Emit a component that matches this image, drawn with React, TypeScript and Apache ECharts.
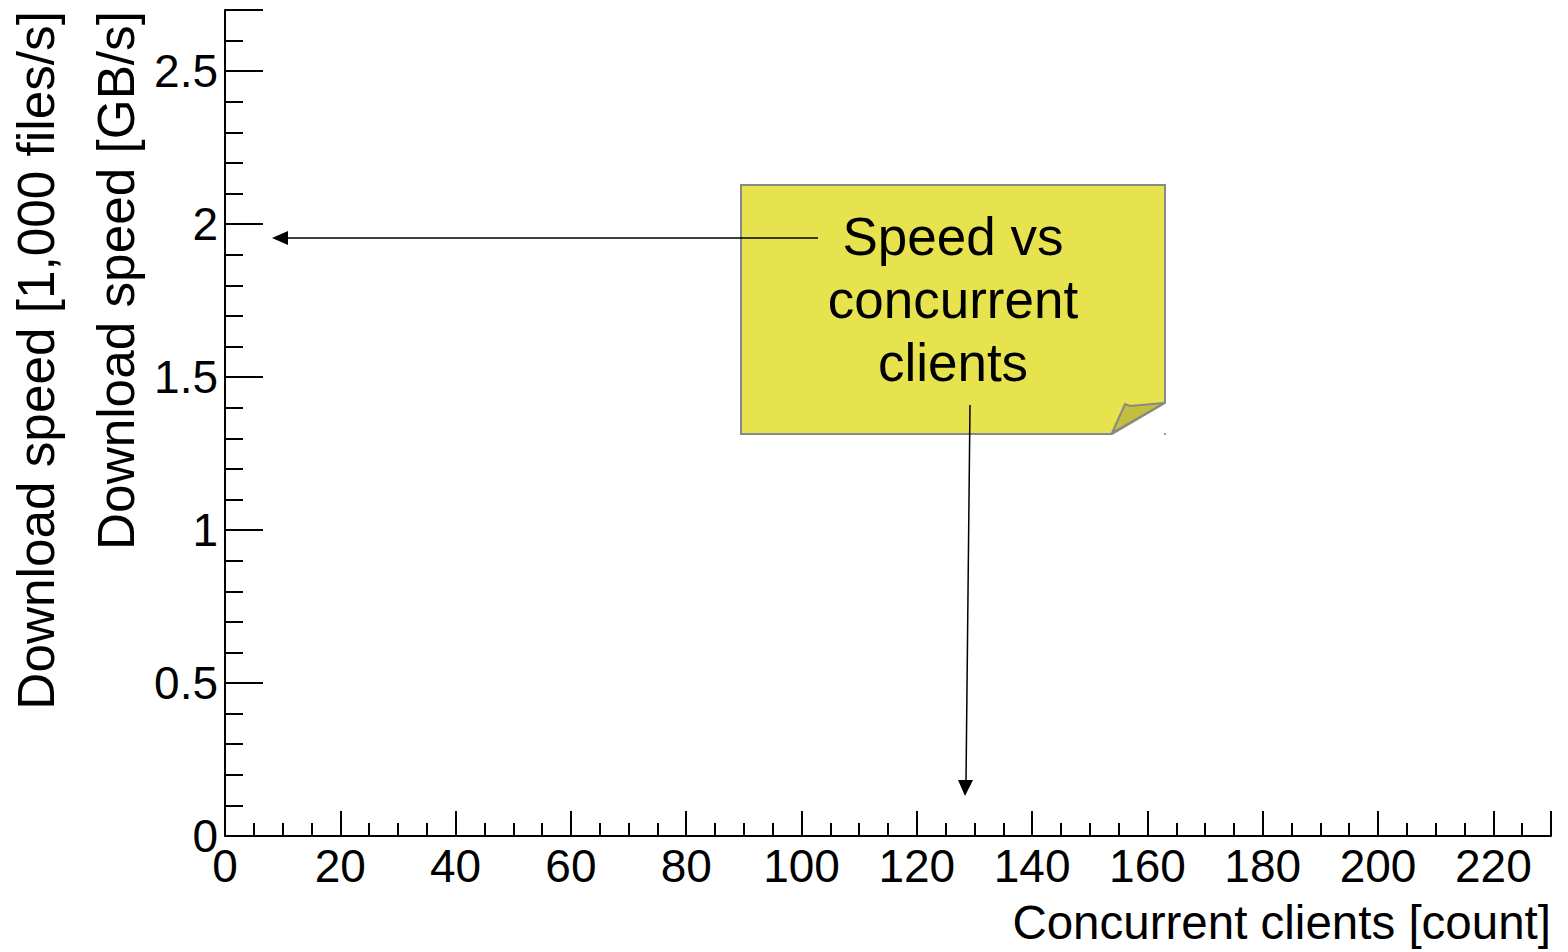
import React, { useEffect, useRef } from "react";
import * as echarts from "echarts";

// Data (the reference plot has empty axes: no points drawn)
const clients: number[] = [];
const speedGBs: number[] = [];
const xRange = [0, 230];
const yRange = [0, 2.7];
const xInterval = 20;
const yInterval = 0.5;
const xTitle = "Concurrent clients [count]";
const yTitle1 = "Download speed [GB/s]";
const yTitle2 = "Download speed [1,000 files/s]";
const noteLines = ["Speed vs", "concurrent", "clients"];

const FONT = "'Liberation Sans', Arial, Helvetica, sans-serif";

export default function App() {
  const ref = useRef<HTMLDivElement>(null);
  useEffect(() => {
    if (!ref.current) return;
    const chart = echarts.init(ref.current, undefined, { renderer: "svg" });
    const axisColor = "#000";
    chart.setOption({
      animation: false,
      backgroundColor: "#fff",
      grid: { left: 225, right: 17, top: 10, bottom: 116, containLabel: false },
      xAxis: {
        type: "value",
        min: xRange[0],
        max: xRange[1],
        interval: xInterval,
        axisLine: { show: true, lineStyle: { color: axisColor, width: 2 } },
        axisTick: { show: true, inside: true, length: 25, lineStyle: { color: axisColor, width: 2 } },
        minorTick: { show: true, splitNumber: 4, length: 13, lineStyle: { color: axisColor, width: 2 } },
        splitLine: { show: false },
        axisLabel: {
          color: "#000",
          fontSize: 46,
          fontFamily: FONT,
          margin: 7,
          showMaxLabel: false,
          hideOverlap: false,
        },
      },
      yAxis: {
        type: "value",
        min: yRange[0],
        max: yRange[1],
        interval: yInterval,
        axisLine: { show: true, lineStyle: { color: axisColor, width: 2 } },
        axisTick: { show: true, inside: true, length: 38, lineStyle: { color: axisColor, width: 2 } },
        minorTick: { show: true, splitNumber: 5, length: 18, lineStyle: { color: axisColor, width: 2 } },
        splitLine: { show: false },
        axisLabel: {
          color: "#000",
          fontSize: 46,
          fontFamily: FONT,
          margin: 7,
          showMaxLabel: false,
          hideOverlap: false,
        },
      },
      series: [
        {
          type: "scatter",
          data: clients.map((c, i) => [c, speedGBs[i]]),
        },
      ],
      graphic: [
        // Axis titles
        {
          type: "text",
          x: 1551,
          y: 922,
          style: {
            text: xTitle,
            font: `47.5px ${FONT}`,
            fill: "#000",
            align: "right",
            verticalAlign: "middle",
          },
        },
        {
          type: "text",
          x: 116,
          y: 11,
          rotation: Math.PI / 2,
          style: {
            text: yTitle1,
            font: `51.3px ${FONT}`,
            fill: "#000",
            align: "right",
            verticalAlign: "middle",
          },
        },
        {
          type: "text",
          x: 36,
          y: 11,
          rotation: Math.PI / 2,
          style: {
            text: yTitle2,
            font: `51.3px ${FONT}`,
            fill: "#000",
            align: "right",
            verticalAlign: "middle",
          },
        },
        // Sticky note
        {
          type: "polygon",
          shape: {
            points: [
              [741, 185],
              [1165, 185],
              [1165, 403],
              [1112, 434],
              [741, 434],
            ],
          },
          style: { fill: "#e6e34e", stroke: "#888", lineWidth: 2 },
        },
        {
          type: "polygon",
          shape: {
            points: [
              [1112, 433],
              [1125, 404],
              [1130, 406],
              [1164, 403],
            ],
          },
          style: { fill: "#c2bf3c", stroke: "#888", lineWidth: 2 },
        },
        {
          type: "rect",
          shape: { x: 1164, y: 433, width: 2, height: 2 },
          style: { fill: "#999" },
        },
        {
          type: "text",
          x: 953,
          y: 299,
          style: {
            text: noteLines.join("\n"),
            font: `53px ${FONT}`,
            lineHeight: 63,
            fill: "#000",
            align: "center",
            verticalAlign: "middle",
          },
        },
        // Arrow to y-axis
        {
          type: "line",
          shape: { x1: 818, y1: 238, x2: 286, y2: 238 },
          style: { stroke: "#000", lineWidth: 1.5 },
        },
        {
          type: "polygon",
          shape: {
            points: [
              [272, 238],
              [288, 231],
              [288, 245],
            ],
          },
          style: { fill: "#000" },
        },
        // Arrow to x-axis
        {
          type: "line",
          shape: { x1: 970, y1: 405, x2: 966, y2: 782 },
          style: { stroke: "#000", lineWidth: 1.5 },
        },
        {
          type: "polygon",
          shape: {
            points: [
              [965, 796],
              [958, 780],
              [973, 780],
            ],
          },
          style: { fill: "#000" },
        },
      ],
    });
    return () => chart.dispose();
  }, []);
  return (
    <div
      ref={ref}
      style={{ position: "absolute", left: 0, top: 0, width: 1568, height: 952 }}
    />
  );
}
